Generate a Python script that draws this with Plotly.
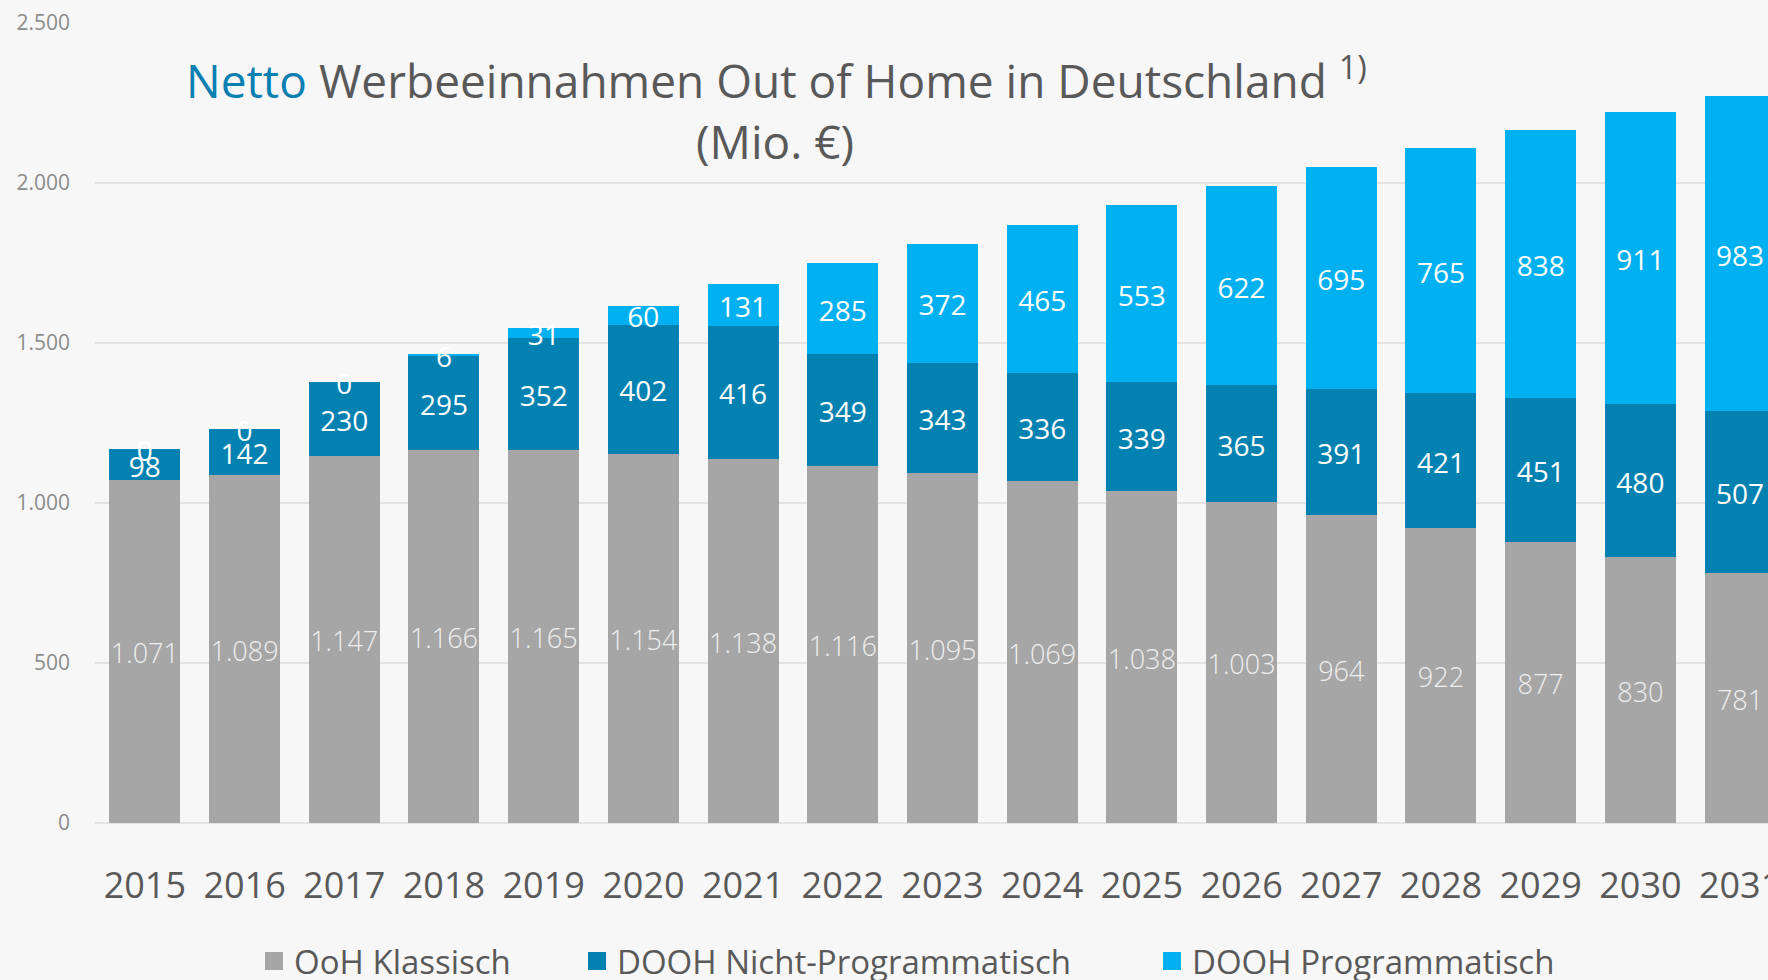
import plotly.graph_objects as go

years = [str(y) for y in range(2015, 2032)]
ooh_klassisch = [1071, 1089, 1147, 1166, 1165, 1154, 1138, 1116, 1095, 1069, 1038, 1003, 964, 922, 877, 830, 781]
dooh_nicht = [98, 142, 230, 295, 352, 402, 416, 349, 343, 336, 339, 365, 391, 421, 451, 480, 507]
dooh_prog = [0, 0, 0, 6, 31, 60, 131, 285, 372, 465, 553, 622, 695, 765, 838, 911, 983]

series_names = ["OoH Klassisch", "DOOH Nicht-Programmatisch", "DOOH Programmatisch"]
colors = ["#A6A6A6", "#0381B1", "#00B0F0"]
label_colors = ["#EFEFEF", "#FFFFFF", "#FFFFFF"]
label_sizes = [27, 28, 28]
label_weights = [300, 400, 400]
legend_ids = ["legend", "legend2", "legend3"]
legend_left_px = [265, 588, 1163]

W, H = 1768, 980
ML, MT, MB = 95, 23, 157
PW = W - ML
PH = H - MT - MB
YMAX = 2500
label_shift = 5 * YMAX / PH  # small downward nudge of label centres (5 px)


def fmt(v):
    return f"{v:,}".replace(",", ".")


def px_to_paper_x(px):
    return (px - ML) / PW


def px_to_paper_y(py):
    return 1 - (py - MT) / PH


fig = go.Figure()
all_series = [ooh_klassisch, dooh_nicht, dooh_prog]
base = [0] * len(years)
for i, (name, vals) in enumerate(zip(series_names, all_series)):
    fig.add_trace(go.Bar(
        x=years, y=vals, name=name, marker=dict(color=colors[i], line=dict(width=0)),
        hoverinfo="skip", showlegend=False,
    ))
    mids = [b + v / 2 - label_shift for b, v in zip(base, vals)]
    fig.add_trace(go.Scatter(
        x=years, y=mids, mode="text", text=[fmt(v) for v in vals],
        textposition="middle center",
        textfont=dict(family="Open Sans", size=label_sizes[i], color=label_colors[i],
                      weight=label_weights[i]),
        showlegend=False, hoverinfo="skip",
    ))
    base = [b + v for b, v in zip(base, vals)]

# legend entries (square swatches)
for i, name in enumerate(series_names):
    fig.add_trace(go.Scatter(
        x=[None], y=[None], mode="markers", name=name,
        marker=dict(symbol="square", size=16, color=colors[i],
                    line=dict(color=colors[i], width=2)),
        legend=legend_ids[i], showlegend=True, hoverinfo="skip",
    ))

legend_common = dict(
    orientation="h", xanchor="left", yanchor="middle", y=px_to_paper_y(961),
    font=dict(family="Open Sans", size=33, color="#595959"),
    bgcolor="rgba(0,0,0,0)", borderwidth=0,
)

layout_legends = {}
for lid, lx in zip(legend_ids, legend_left_px):
    layout_legends[lid] = dict(legend_common, x=px_to_paper_x(lx - 11))

fig.update_layout(
    width=W, height=H,
    barmode="stack", bargap=0.288,
    paper_bgcolor="#F7F7F7", plot_bgcolor="#F7F7F7",
    margin=dict(l=ML, r=0, t=MT, b=MB, autoexpand=False),
    separators=",.",
    font=dict(family="Open Sans", color="#595959"),
    showlegend=True,
    xaxis=dict(
        type="category", range=[-0.5, 16.28], showgrid=False, zeroline=False,
        showline=False, ticks="", tickfont=dict(size=36, color="#595959"),
        ticklabelstandoff=38,
    ),
    yaxis=dict(
        range=[0, YMAX], tickvals=[0, 500, 1000, 1500, 2000, 2500],
        tickformat=",d", showgrid=True, gridcolor="#E3E3E3", gridwidth=2,
        zeroline=True, zerolinecolor="#E3E3E3", zerolinewidth=2,
        showline=False, ticks="", tickfont=dict(size=21, color="#8C8C8C"),
        ticklabelstandoff=24,
    ),
    **layout_legends,
)

fig.add_annotation(
    text="<span style='color:#0A80B2'>Netto</span> Werbeeinnahmen Out of Home in Deutschland <sup>1)</sup>",
    xref="paper", yref="paper", x=px_to_paper_x(776), y=px_to_paper_y(78),
    xanchor="center", yanchor="middle", showarrow=False,
    font=dict(family="Open Sans", size=46, color="#595959"),
)
fig.add_annotation(
    text="(Mio. €)",
    xref="paper", yref="paper", x=px_to_paper_x(775), y=px_to_paper_y(141),
    xanchor="center", yanchor="middle", showarrow=False,
    font=dict(family="Open Sans", size=46, color="#595959"),
)

fig.write_html("out.html")
